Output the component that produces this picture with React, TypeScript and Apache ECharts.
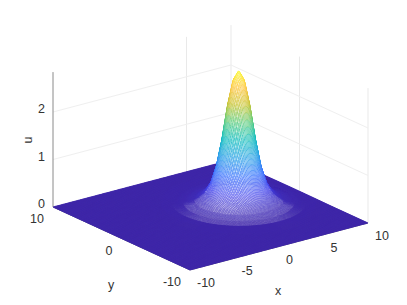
import React, { useEffect, useRef } from "react";
import * as echarts from "echarts";

const WIDTH = 407;
const HEIGHT = 305;

// Axis ticks
const xTicks = [-10, -5, 0, 5, 10];
const yTicks = [-10, 0, 10];
const uTicks = [0, 1, 2];
const uTop = 2.84;

// Radial profile of the surface
const peakCentre = [3.9, 0.95];
const profileR = [0, 0.5, 1, 1.5, 2, 2.5, 3, 3.5, 4, 5, 6, 8, 30];
const profileU = [2.79, 2.58, 2.04, 1.32, 0.75, 0.4, 0.22, 0.13, 0.07, 0.022, 0.005, 0, 0];

// Parula colour stops
const parula = [
  [62, 38, 168], [71, 71, 235], [56, 117, 254], [35, 160, 229], [11, 189, 189],
  [87, 204, 122], [197, 194, 42], [254, 195, 56], [249, 251, 21],
];

const meshCells = 200;
const lo = -10;
const hi = 10;

// View transform of the 3D box
function project(x: number, y: number, u: number): [number, number] {
  return [210.5 + 8.9 * x - 6.85 * y, 215 - 2.35 * x - 3.15 * y - 47.5 * u];
}

function height(x: number, y: number): number {
  const r = Math.hypot(x - peakCentre[0], y - peakCentre[1]);
  let k = 0;
  while (k < profileR.length - 2 && profileR[k + 1] < r) k++;
  const t = (r - profileR[k]) / (profileR[k + 1] - profileR[k]);
  return profileU[k] + (profileU[k + 1] - profileU[k]) * t;
}

function colourRgb(u: number): number[] {
  const t = Math.min(1, Math.max(0, u / profileU[0])) * (parula.length - 1);
  const k = Math.min(parula.length - 2, Math.floor(t));
  const f = t - k;
  return parula[k].map((v, i) => Math.round(v + (parula[k + 1][i] - v) * f));
}

const css = (c: number[]) => `rgb(${c[0]},${c[1]},${c[2]})`;

function quadArea(p: number[][]): number {
  let a = 0;
  for (let i = 0; i < p.length; i++) {
    const q = p[(i + 1) % p.length];
    a += p[i][0] * q[1] - q[0] * p[i][1];
  }
  return Math.abs(a) / 2;
}

const FONT = '12.5px "Liberation Sans", Arial, sans-serif';
const TEXT = "#333333";

export default function App() {
  const ref = useRef<HTMLDivElement>(null);
  useEffect(() => {
    document.body.style.margin = "0";
    const chart = echarts.init(ref.current!, undefined, { renderer: "svg", width: WIDTH, height: HEIGHT });

    const segs: number[][] = [];
    const gridSegs: number[][] = [];
    const levelSegs: number[][] = [];
    // walls
    gridSegs.push([5, 10, 0, 5, 10, uTop]);
    gridSegs.push([10, 10, 0, 10, 10, uTop]);
    gridSegs.push([10, 0, 0, 10, 0, uTop]);
    gridSegs.push([10, -10, 0, 10, -10, uTop]);
    for (const u of [1, 2]) {
      levelSegs.push([-10, 10, u, 10, 10, u]);
      levelSegs.push([10, 10, u, 10, -10, u]);
    }
    // rulers
    segs.push([-10, 10, 0, -10, 10, uTop]);
    segs.push([-10, 10, 0, -10, -10, 0]);
    segs.push([-10, -10, 0, 10, -10, 0]);

    const mesh: number[][] = [];
    for (let i = meshCells - 1; i >= 0; i--) {
      for (let j = meshCells - 1; j >= 0; j--) mesh.push([i, j]);
    }

    const labels: any[] = [];
    xTicks.forEach((x) => labels.push([x, -10, 0, 7, 13, String(x), "left", 0]));
    yTicks.forEach((y) => labels.push([-10, y, 0, -9, 12, String(y), "right", 0]));
    uTicks.forEach((u) => labels.push([-10, 10, u, -8, -3, String(u), "right", 0]));
    labels.push([-10, 10, 0, 58, 78, "y", "center", 0]);
    labels.push([0, -10, 0, -1, 44, "x", "center", 0]);
    labels.push([-10, 10, 0, -25, -67, "u", "center", 1]);

    const lineItem = (color: string, width: number) => (_: any, api: any) => {
      const a = api.coord(project(api.value(0), api.value(1), api.value(2)));
      const b = api.coord(project(api.value(3), api.value(4), api.value(5)));
      return {
        type: "line",
        shape: { x1: a[0], y1: a[1], x2: b[0], y2: b[1] },
        style: { stroke: color, lineWidth: width },
      };
    };

    const step = (hi - lo) / meshCells;
    const flatArea = quadArea([
      project(0, 0, 0), project(step, 0, 0), project(step, step, 0), project(0, step, 0),
    ]);
    chart.setOption({
      animation: false,
      grid: { left: 0, right: 0, top: 0, bottom: 0 },
      xAxis: { type: "value", min: 0, max: WIDTH, show: false },
      yAxis: { type: "value", min: 0, max: HEIGHT, inverse: true, show: false },
      series: [
        {
          type: "custom", coordinateSystem: "cartesian2d", silent: true, clip: false, z: 1,
          data: gridSegs, renderItem: lineItem("#e9e9e9", 1),
        },
        {
          type: "custom", coordinateSystem: "cartesian2d", silent: true, clip: false, z: 1,
          data: levelSegs, renderItem: lineItem("#efefef", 1),
        },
        {
          type: "custom", coordinateSystem: "cartesian2d", silent: true, clip: false, z: 2,
          data: segs, renderItem: lineItem("#8a8a8a", 1),
        },
        {
          type: "custom", coordinateSystem: "cartesian2d", silent: true, clip: false, z: 3,
          data: mesh, progressive: 0,
          renderItem: (_: any, api: any) => {
            const x0 = lo + api.value(0) * step;
            const y0 = lo + api.value(1) * step;
            const x1 = x0 + step;
            const y1 = y0 + step;
            const corners = [[x0, y0], [x1, y0], [x1, y1], [x0, y1]];
            let mean = 0;
            const pts = corners.map(([x, y]) => {
              const u = height(x, y);
              mean += u / 4;
              return api.coord(project(x, y, u));
            });
            const c = colourRgb(mean);
            const ratio = quadArea(pts) / flatArea;
            const w = Math.min(1, Math.max(0, (ratio - 1.02) / 0.15));
            const fill = c.map((v) => Math.round(v + (255 - v) * w));
            return {
              type: "polygon",
              shape: { points: pts },
              style: { fill: css(fill), stroke: css(c), lineWidth: 0.6 - 0.15 * w },
            };
          },
        },
        {
          type: "custom", coordinateSystem: "cartesian2d", silent: true, clip: false, z: 4,
          data: labels,
          renderItem: (_: any, api: any) => {
            const l = labels[_.dataIndex];
            const p = api.coord(project(l[0], l[1], l[2]));
            return {
              type: "text",
              x: p[0] + l[3],
              y: p[1] + l[4],
              rotation: l[7] ? Math.PI / 2 : 0,
              style: { text: l[5], fill: TEXT, font: FONT, align: l[6], verticalAlign: "middle" },
            };
          },
        },
      ],
    });
    return () => chart.dispose();
  }, []);
  return <div ref={ref} style={{ width: WIDTH, height: HEIGHT }} />;
}
